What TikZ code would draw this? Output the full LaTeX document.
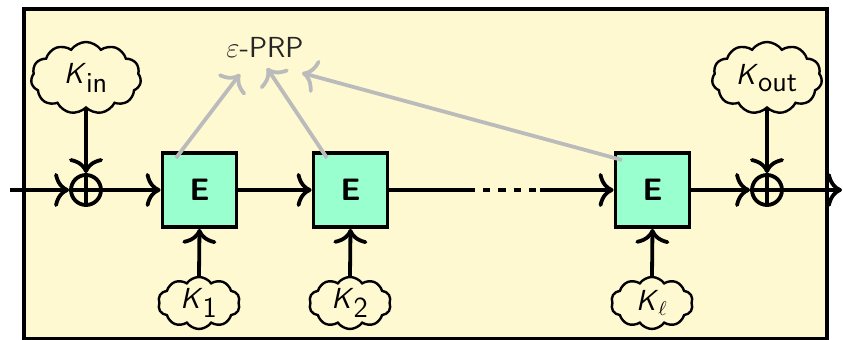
\documentclass[tikz,border=0pt]{standalone}
\usetikzlibrary{shapes.symbols,arrows.meta}
\definecolor{bgyellow}{HTML}{FFF9D2}
\definecolor{boxgreen}{HTML}{99FFCF}
\definecolor{arrgray}{HTML}{BBBBBB}
\begin{document}
\begin{tikzpicture}[x=0.5pt,y=-0.5pt,
  font=\sffamily\fontsize{14.5}{18}\selectfont,
  tipstyle/.style={-{Computer Modern Rightarrow[length=7.5pt,width=17pt]}},
  mainline/.style={line width=1.9pt,tipstyle},
  plain/.style={line width=1.9pt},
  ebox/.style={draw,line width=1.9pt,fill=boxgreen,minimum width=37pt,minimum height=37pt,inner sep=0pt,font=\sffamily\bfseries\fontsize{15.5}{18}\selectfont},
  xorc/.style={draw,circle,line width=1.9pt,minimum size=15pt,inner sep=0pt},
  bigcloud/.style={draw,cloud,cloud puffs=11,cloud puff arc=110,aspect=1.6,line width=1.2pt,fill=bgyellow,minimum width=55pt,minimum height=36pt,inner sep=0pt},
  smallcloud/.style={draw,cloud,cloud puffs=10,cloud puff arc=110,aspect=1.6,line width=1.2pt,fill=bgyellow,minimum width=41pt,minimum height=26pt,inner sep=0pt},
  grayarr/.style={draw=arrgray,line width=1.9pt,tipstyle}
]
\useasboundingbox (0,0) rectangle (843,340);
\draw[line width=1.9pt,fill=bgyellow] (24,9) rectangle (827,339);

\coordinate (start) at (10,190);
\coordinate (stop) at (842,190);
\coordinate (d1) at (468,190);
\coordinate (d2) at (540,190);

\node[xorc] (xin) at (86,190) {};
\node[xorc] (xout) at (767,190) {};
\node[ebox] (e1) at (199.5,190) {E};
\node[ebox] (e2) at (350.5,190) {E};
\node[ebox] (e3) at (652.5,190) {E};

\node[bigcloud] (kin) at (86,78) {$\textsf{\textsl{K}}_{\textsf{in}}$};
\node[bigcloud] (kout) at (767,78) {$\textsf{\textsl{K}}_{\textsf{out}}$};
\node[smallcloud] (k1) at (199,303) {$\textsf{\textsl{K}}_{\textsf{1}}$};
\node[smallcloud] (k2) at (350,303) {$\textsf{\textsl{K}}_{\textsf{2}}$};
\node[smallcloud] (kl) at (652,303) {$\textsf{\textsl{K}}_{\ell}$};

\node[text=black!85,font=\sffamily\fontsize{14.5}{16}\selectfont] (prp) at (265,47) {$\varepsilon$-PRP};

% xor plus signs
\draw[plain] (xin.north) -- (xin.south) (xin.west) -- (xin.east);
\draw[plain] (xout.north) -- (xout.south) (xout.west) -- (xout.east);

% main line
\draw[mainline] (start) -- (xin.west);
\draw[mainline] (xin.east) -- (e1.west);
\draw[mainline] (e1.east) -- (e2.west);
\draw[plain] (e2.east) -- (d1);
\draw[plain,dash pattern=on 3.6pt off 4pt] (d1) -- (d2);
\draw[mainline] (d2) -- (e3.west);
\draw[mainline] (e3.east) -- (xout.west);
\draw[mainline] (xout.east) -- (stop);

% key inputs
\draw[mainline] (kin.south) -- (xin.north);
\draw[mainline] (kout.south) -- (xout.north);
\draw[mainline] (k1.north) -- (e1.south);
\draw[mainline] (k2.north) -- (e2.south);
\draw[mainline] (kl.north) -- (e3.south);

% gray arrows
\coordinate (g1s) at (176,158);
\coordinate (g1e) at (240,74);
\coordinate (g2s) at (327,158);
\coordinate (g2e) at (267,68);
\coordinate (g3s) at (622,160);
\coordinate (g3e) at (302,73);
\draw[grayarr] (g1s) -- (g1e);
\draw[grayarr] (g2s) -- (g2e);
\draw[grayarr] (g3s) -- (g3e);
\end{tikzpicture}
\end{document}
